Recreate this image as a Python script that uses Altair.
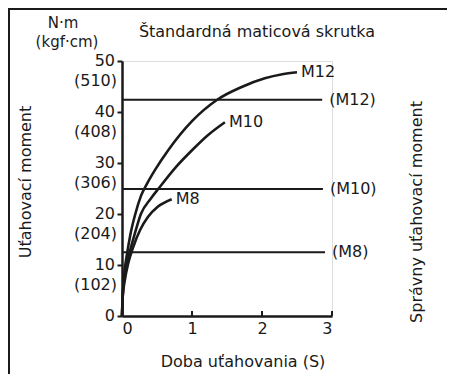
import altair as alt
import pandas as pd

# ---- data ----
m12_t = [0, 0.01, 0.03, 0.07, 0.12, 0.19, 0.27, 0.36, 0.47, 0.66, 1.0, 1.36, 1.71, 2.04, 2.29, 2.5]
m12_v = [0, 4, 8, 12, 16, 20, 23.5, 26, 28.6, 32.5, 38.2, 42.4, 44.9, 46.6, 47.4, 47.8]
m10_t = [0, 0.01, 0.04, 0.11, 0.18, 0.27, 0.41, 0.54, 0.77, 1.0, 1.23, 1.47]
m10_v = [0, 4, 8, 12.5, 16, 20, 23, 25.3, 29.2, 32.5, 35.5, 38.0]
m8_t = [0, 0.01, 0.04, 0.09, 0.16, 0.26, 0.37, 0.51, 0.71]
m8_v = [0, 3.7, 7, 10.4, 13.5, 16.9, 19.4, 21.4, 22.9]
curve_names = ["M12", "M10", "M8"]

ref_names = ["(M12)", "(M10)", "(M8)"]
ref_values = [42.4, 24.9, 12.5]
ref_ends = [2.86, 2.87, 2.9]

y_ticks = [0, 10, 20, 30, 40, 50]
y_kgf = ["", "(102)", "(204)", "(306)", "(408)", "(510)"]
x_ticks = [1, 2, 3]

title_text = "Štandardná maticová skrutka"
x_title = "Doba uťahovania (S)"
y_title = "Uťahovací moment"
y2_title = "Správny uťahovací moment"
unit1 = "N·m"
unit2 = "(kgf·cm)"

FONT = "DejaVu Sans"
FS = 16
INK = "#1a1a1a"

rows = []
for name, ts, vs in zip(curve_names, [m12_t, m10_t, m8_t], [m12_v, m10_v, m8_v]):
    for i, (t, v) in enumerate(zip(ts, vs)):
        rows.append({"series": name, "t": t, "v": v, "i": i})
curves = pd.DataFrame(rows)
ends = pd.DataFrame({"series": curve_names,
                     "t": [m12_t[-1], m10_t[-1], m8_t[-1]],
                     "v": [m12_v[-1], m10_v[-1], m8_v[-1]]})
refs = pd.DataFrame({"name": ref_names, "v": ref_values, "t0": [0, 0, 0], "t1": ref_ends})
yt = pd.DataFrame({"v": y_ticks, "num": [str(v) for v in y_ticks], "kgf": y_kgf})
xt = pd.DataFrame({"t": x_ticks})

xs = alt.Scale(domain=[0, 3], nice=False, zero=False)
ys = alt.Scale(domain=[0, 50], nice=False, zero=False)

X = alt.X("t:Q", scale=xs, axis=alt.Axis(title=None, values=[0, 1, 2, 3], format="d", ticks=False,
                                         labelFont=FONT, labelFontSize=FS, labelColor=INK,
                                         labelPadding=4, domainColor=INK, domainWidth=2.5, grid=False))
Y = alt.Y("v:Q", scale=ys, axis=alt.Axis(title=None, values=y_ticks, labels=False, tickSize=5,
                                         tickWidth=2, tickColor=INK, domainColor=INK, domainWidth=2.5,
                                         grid=False))

lines = alt.Chart(curves).mark_line(color=INK, strokeWidth=2.6, interpolate="monotone").encode(
    x=X, y=Y, detail="series:N", order="i:Q")

end_labels = alt.Chart(ends).mark_text(font=FONT, fontSize=FS, color=INK, align="left", dx=4).encode(
    x=alt.X("t:Q", scale=xs), y=alt.Y("v:Q", scale=ys), text="series:N")

ref_lines = alt.Chart(refs).mark_rule(color=INK, strokeWidth=2.2).encode(
    x=alt.X("t0:Q", scale=xs), x2="t1:Q", y=alt.Y("v:Q", scale=ys))
ref_labels = alt.Chart(refs).mark_text(font=FONT, fontSize=FS, color=INK, align="left", dx=7).encode(
    x=alt.X("t1:Q", scale=xs), y=alt.Y("v:Q", scale=ys), text="name:N")

x_tick_marks = alt.Chart(xt).mark_rule(color=INK, strokeWidth=2).encode(
    x=alt.X("t:Q", scale=xs), y=alt.value(255), y2=alt.value(250))

y_nums = alt.Chart(yt).mark_text(font=FONT, fontSize=FS, color=INK, align="right", baseline="middle").encode(
    x=alt.value(-7), y=alt.Y("v:Q", scale=ys), text="num:N")
y_kg = alt.Chart(yt).mark_text(font=FONT, fontSize=FS, color=INK, align="right", baseline="middle", dy=20).encode(
    x=alt.value(-5), y=alt.Y("v:Q", scale=ys), text="kgf:N")


def label(txt, x, y, angle=0, size=FS):
    return alt.Chart(pd.DataFrame({"s": [txt]})).mark_text(
        font=FONT, fontSize=size, color=INK, align="center", baseline="middle", angle=angle).encode(
        x=alt.value(x), y=alt.value(y), text="s:N")


texts = [
    label(title_text, 135, -29),
    label(unit1, -59, -38, size=15),
    label(unit2, -55, -19, size=15),
    label(x_title, 121, 301),
    label(y_title, -96, 121, 270),
    label(y2_title, 295, 151, 270),
]

frame_left = alt.Chart(pd.DataFrame({"a": [0]})).mark_rule(color=INK, strokeWidth=2).encode(
    x=alt.value(-113), y=alt.value(-52), y2=alt.value(320))
frame_top = alt.Chart(pd.DataFrame({"a": [0]})).mark_rule(color=INK, strokeWidth=2).encode(
    x=alt.value(-114), x2=alt.value(330), y=alt.value(-52))

chart = alt.layer(
    ref_lines, lines, end_labels, ref_labels, x_tick_marks, y_nums, y_kg, frame_left, frame_top, *texts
).properties(
    width=210, height=255,
    padding={"left": 114, "top": 53, "right": 115, "bottom": 58},
    autosize=alt.AutoSizeParams(type="none"),
).configure_view(stroke=None).configure(background="white")

chart.save("out.html", embed_options={"renderer": "svg", "actions": False})
